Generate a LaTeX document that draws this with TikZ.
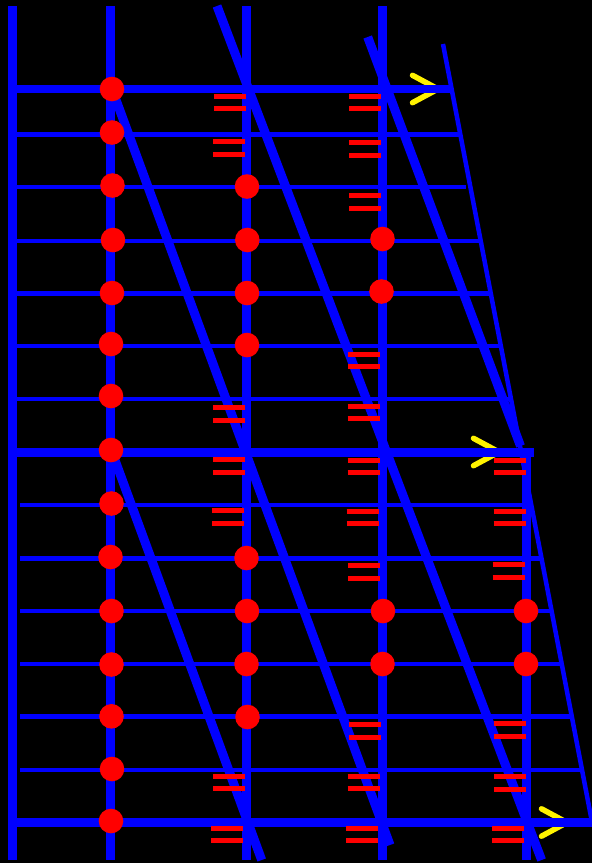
\documentclass[tikz,border=0pt]{standalone}
\tikzset{
  chev/.style={draw=yellow,line width=5.5pt,line cap=round,line join=round},
  wire/.style={draw=blue,line width=#1},
  bar/.style={draw=red,line width=5pt},
  dot/.style={circle,fill=red,draw=none,minimum size=24.6pt,inner sep=0pt}
}
\begin{document}
\begin{tikzpicture}[x=1pt,y=-1pt]
\useasboundingbox (0,0) rectangle (592,863);
\fill[black] (0,0) rectangle (592,863);
% yellow chevrons
\foreach \tx/\ty in {438/89,499/452,567/822.5}
  \draw[chev] (\tx-25.5,\ty-13.7) -- (\tx,\ty) -- (\tx-25.5,\ty+13.7);
% verticals
\foreach \x/\a in {12.5/6,110.5/6,246.5/6,382.5/6,526.5/452}
  \draw[wire=9pt] (\x,\a) -- (\x,860);
% horizontals
\foreach \y/\a/\b/\w in {
  89/12/453/8, 134/12/460/5, 187/12/466/4, 240.5/12/480/4, 293/12/490/5,
  346/12/499/4, 399/12/510/4, 452.5/12/534/9, 505/20/527/4, 558/20/541/5,
  611/20/550/4, 663.5/20/561/4, 716.5/20/572/5, 769.5/20/581/4, 822.5/12/592/9}
  \draw[wire=\w pt] (\a,\y) -- (\b,\y);
% slanted
\draw[wire=9pt] (112,89) -- (390,845);
\draw[wire=9pt] (217,6) -- (541.6,860);
\draw[wire=9pt] (112,452) -- (261.7,860);
\draw[wire=9pt] (367.7,37) -- (520.5,446);
\draw[wire=4.5pt] (443,44) -- (592,822);
% red pairs
\foreach \x/\a/\b in {
  214/96/108.5, 213/141.5/154, 349/96/108.5, 349/142.5/155, 349/195.5/208,
  348/354/366, 347.5/406/418.5, 347.5/460/472.5, 494/460/472.5,
  346.5/511/523.5, 493.5/511/523.5, 348/565.5/578, 492.5/564.5/577,
  213/407.5/420, 213/459.5/472, 212/510.5/523,
  349/724.5/737, 213/776/788.5, 347.5/776/788.5, 211.3/828/840.5, 346.3/828.5/840.5,
  494/723.5/736, 494/776/789, 492.3/828/840.5}
{
  \draw[bar] (\x,\a) -- ++(32,0);
  \draw[bar] (\x,\b) -- ++(32,0);
}
% red dots
\foreach \x/\y [count=\i] in {
  112/89,112/132.5,112.5/185.5,113/240,112/293,111/344,111/396,111/450,
  111.5/503.5,110.5/557,111.5/611,111.5/664.5,111.5/716.3,112/769,111/821,
  247/186.5,247.3/240,247/293,247/345,246.5/558,247/611,246.5/664,247.5/717,
  382.5/239,381.5/291.5,383/611,382.5/664,526/611,526/664}
  \node[dot] (d\i) at (\x,\y) {};
\end{tikzpicture}
\end{document}
